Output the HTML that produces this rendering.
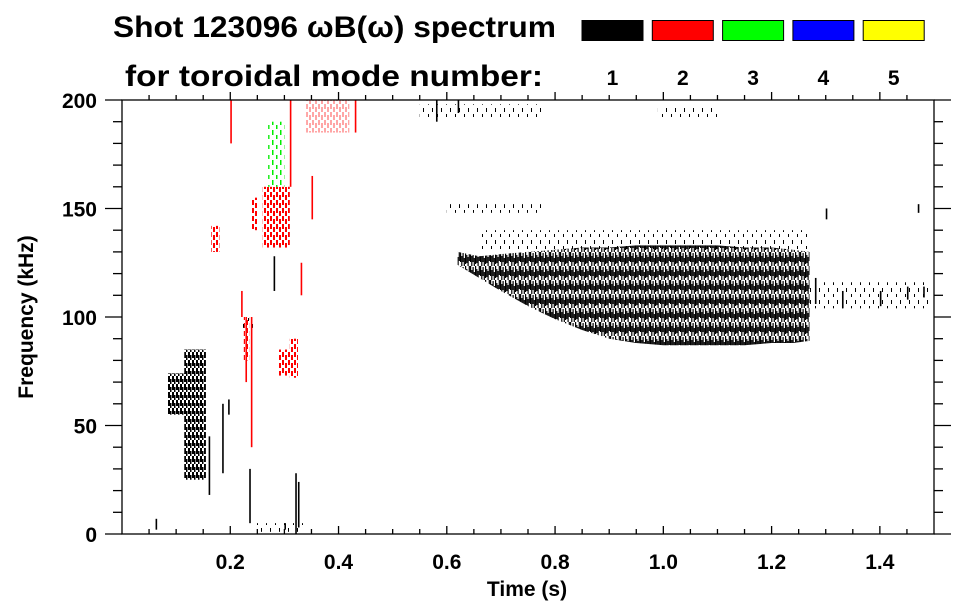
<!DOCTYPE html>
<html><head><meta charset="utf-8"><style>
html,body{margin:0;padding:0;background:#fff;}
svg{display:block;font-family:"Liberation Sans",sans-serif;font-weight:bold;}
</style></head><body>
<svg id="chart" width="963" height="615" viewBox="0 0 963 615" xmlns="http://www.w3.org/2000/svg">
<defs>
<pattern id="hatch-1" patternUnits="userSpaceOnUse" width="10" height="14">
<rect x="0" y="0" width="1.2" height="10" fill="#000"/><rect x="1.2" y="4" width="1.2" height="10" fill="#000"/>
<rect x="2.5" y="1" width="1.2" height="9" fill="#000"/><rect x="3.7" y="6" width="1.2" height="8" fill="#000"/>
<rect x="5" y="0" width="1.2" height="12" fill="#000"/><rect x="6.2" y="3" width="1.2" height="8" fill="#000"/>
<rect x="7.5" y="5" width="1.2" height="9" fill="#000"/><rect x="8.7" y="0" width="1.2" height="9" fill="#000"/>
</pattern>
<pattern id="hatch-1s" patternUnits="userSpaceOnUse" width="9" height="12">
<rect x="0" y="0" width="1" height="4" fill="#000"/><rect x="5" y="6" width="1" height="3" fill="#000"/>
</pattern>
<pattern id="hatch-2" patternUnits="userSpaceOnUse" width="6" height="8">
<rect x="0" y="0" width="2" height="5" fill="#f00"/><rect x="3" y="3" width="2" height="5" fill="#f00"/>
</pattern>
<pattern id="hatch-3" patternUnits="userSpaceOnUse" width="8" height="10">
<rect x="0" y="0" width="1.5" height="5" fill="#0e0"/><rect x="4" y="5" width="1.5" height="4" fill="#0e0"/>
</pattern>
<pattern id="hatch-1b" patternUnits="userSpaceOnUse" width="4" height="8">
<rect x="0" y="0" width="2" height="6" fill="#000"/><rect x="2" y="3" width="1.5" height="5" fill="#000"/>
</pattern>
</defs>
<g id="marks"></g>
<g id="axes"></g>
</svg>
<script>
// ---- data ----
const xTicks = [0.2, 0.4, 0.6, 0.8, 1.0, 1.2, 1.4];
const xTickLabels = ["0.2", "0.4", "0.6", "0.8", "1.0", "1.2", "1.4"];
const yTicks = [0, 50, 100, 150, 200];
const yTickLabels = ["0", "50", "100", "150", "200"];
const modeColors = ["#000000", "#ff0000", "#00ff00", "#0000ff", "#ffff00"];
const modeLabels = ["1", "2", "3", "4", "5"];
// main mode-1 envelope
const envT = [0.62, 0.66, 0.70, 0.75, 0.80, 0.85, 0.90, 0.95, 1.00, 1.05, 1.10, 1.15, 1.20, 1.24, 1.27];
const envLow = [124, 118, 112, 105, 99, 94, 90, 88, 87, 87, 87, 87, 88, 88, 89];
const envHigh = [130, 128, 129, 130, 131, 132, 132, 133, 133, 133, 133, 132, 132, 131, 130];
// blobs
const blobT0 = [0.085, 0.115, 0.26, 0.27, 0.31, 0.165, 0.29, 0.225, 0.24];
const blobT1 = [0.150, 0.155, 0.31, 0.30, 0.325, 0.18, 0.325, 0.235, 0.25];
const blobF0 = [55, 25, 132, 160, 72, 130, 73, 80, 140];
const blobF1 = [74, 85, 160, 190, 90, 142, 85, 100, 155];
const blobMode = [1, 1, 2, 3, 2, 2, 2, 2, 2];
// vertical strokes
const strokeT = [0.16, 0.185, 0.196, 0.235, 0.238, 0.32, 0.325, 0.228, 0.20, 0.31, 0.33, 0.43, 0.062, 0.30, 0.28, 1.28, 1.33, 1.40, 1.45, 1.48, 0.58, 0.62, 1.30, 1.47, 0.22, 0.35];
const strokeF0 = [18, 28, 55, 5, 40, 0, 3, 70, 180, 160, 110, 185, 2, 2, 112, 106, 104, 105, 108, 109, 190, 194, 145, 148, 100, 145];
const strokeF1 = [45, 60, 62, 30, 100, 28, 24, 100, 200, 200, 125, 200, 7, 5, 128, 118, 112, 112, 114, 114, 200, 200, 150, 152, 112, 165];
const strokeMode = [1, 1, 1, 1, 2, 1, 1, 2, 2, 2, 2, 2, 1, 1, 1, 1, 1, 1, 1, 1, 1, 1, 1, 1, 2, 2];
// sparse bands
const bandT0 = [0.55, 0.99, 0.245, 0.22, 0.34, 0.60, 0.66, 1.27];
const bandT1 = [0.78, 1.10, 0.335, 0.245, 0.42, 0.78, 1.27, 1.49];
const bandF0 = [191, 191, 1, 95, 185, 148, 130, 104];
const bandF1 = [198, 197, 5, 100, 200, 152, 140, 116];
const bandMode = [1, 1, 1, 1, 2, 1, 1, 1];

// ---- scales ----
const X0 = 122, X1 = 934, Y0 = 534, Y1 = 100;
const T_MIN = 0, T_MAX = 1.5, F_MIN = 0, F_MAX = 200;
function xs(t){ return X0 + (t - T_MIN) / (T_MAX - T_MIN) * (X1 - X0); }
function ys(f){ return Y0 - (f - F_MIN) / (F_MAX - F_MIN) * (Y0 - Y1); }
const NS = "http://www.w3.org/2000/svg";
function mk(tag, attrs, parent){ const e = document.createElementNS(NS, tag); for (const k in attrs) e.setAttribute(k, attrs[k]); parent.appendChild(e); return e; }
const marks = document.getElementById('marks');
const axes = document.getElementById('axes');

let pts = [];
for (let i = 0; i < envT.length; i++) pts.push(xs(envT[i]) + "," + ys(envHigh[i]));
for (let i = envT.length - 1; i >= 0; i--) pts.push(xs(envT[i]) + "," + ys(envLow[i]));
const env = mk('polygon', {points: pts.join(' '), fill: 'url(#hatch-1)'}, marks);



for (let i = 0; i < blobT0.length; i++) {
  const pat = blobMode[i] === 1 ? 'hatch-1b' : 'hatch-' + blobMode[i];
  const r = mk('rect', {x: xs(blobT0[i]), y: ys(blobF1[i]), width: xs(blobT1[i]) - xs(blobT0[i]), height: ys(blobF0[i]) - ys(blobF1[i]), fill: 'url(#' + pat + ')'}, marks);
  
  
}
for (let i = 0; i < bandT0.length; i++) {
  const r = mk('rect', {x: xs(bandT0[i]), y: ys(bandF1[i]), width: xs(bandT1[i]) - xs(bandT0[i]), height: ys(bandF0[i]) - ys(bandF1[i]), fill: bandMode[i] === 2 ? 'url(#hatch-2)' : 'url(#hatch-1s)', opacity: bandMode[i] === 2 ? 0.35 : 1}, marks);
  
  
}
for (let i = 0; i < strokeT.length; i++) {
  const r = mk('rect', {x: xs(strokeT[i]), y: ys(strokeF1[i]), width: 1.6, height: ys(strokeF0[i]) - ys(strokeF1[i]), fill: modeColors[strokeMode[i] - 1]}, marks);
  
  
}

const frame = mk('rect', {x: X0, y: Y1, width: X1 - X0, height: Y0 - Y1, fill: 'none', stroke: '#000', 'stroke-width': 1.3}, axes);


for (let k = 1; k < 30; k++) {
  const t = k * 0.05, major = (k % 4 === 0);
  const len = major ? 8 : 5;
  mk('line', {x1: xs(t), x2: xs(t), y1: Y0, y2: Y0 - len, stroke: '#000', 'stroke-width': 1.3}, axes);
  mk('line', {x1: xs(t), x2: xs(t), y1: Y1, y2: Y1 - len, stroke: '#000', 'stroke-width': 1.3}, axes);
}
for (let i = 0; i < xTicks.length; i++) {
  const tx = mk('text', {x: xs(xTicks[i]), y: 569, 'font-size': 21, 'text-anchor': 'middle'}, axes);
  tx.textContent = xTickLabels[i];
  
  
}
for (let k = 0; k <= 20; k++) {
  const f = k * 10, major = (k % 5 === 0);
  const len = major ? 17 : 9;
  mk('line', {x1: X0, x2: X0 - len, y1: ys(f), y2: ys(f), stroke: '#000', 'stroke-width': 1.3}, axes);
  mk('line', {x1: X1, x2: X1 + len, y1: ys(f), y2: ys(f), stroke: '#000', 'stroke-width': 1.3}, axes);
}
for (let i = 0; i < yTicks.length; i++) {
  const tx = mk('text', {x: 97, y: ys(yTicks[i]) + 8, 'font-size': 21, 'text-anchor': 'end'}, axes);
  tx.textContent = yTickLabels[i];
  
  
}
const xt = mk('text', {x: 527, y: 596, 'font-size': 21, 'text-anchor': 'middle'}, axes);
xt.textContent = 'Time (s)';


const yt = mk('text', {x: 0, y: 0, 'font-size': 21, 'text-anchor': 'middle', transform: 'translate(33,317) rotate(-90)'}, axes);
yt.textContent = 'Frequency (kHz)';



const t1 = mk('text', {x: 113, y: 37, 'font-size': 30, textLength: 443, lengthAdjust: 'spacingAndGlyphs'}, axes);
t1.textContent = 'Shot 123096 \u03c9B(\u03c9) spectrum';


const t2 = mk('text', {x: 125, y: 86, 'font-size': 30, textLength: 418, lengthAdjust: 'spacingAndGlyphs'}, axes);
t2.textContent = 'for toroidal mode number:';


for (let i = 0; i < modeColors.length; i++) {
  const bx = 582 + i * 70.3;
  const r = mk('rect', {x: bx, y: 20.5, width: 61, height: 20, fill: modeColors[i], stroke: '#000', 'stroke-width': 1}, axes);
  
  
  const lt = mk('text', {x: bx + 30.5, y: 85, 'font-size': 21, 'text-anchor': 'middle'}, axes);
  lt.textContent = modeLabels[i];
  
  
}
</script>
</body></html>
